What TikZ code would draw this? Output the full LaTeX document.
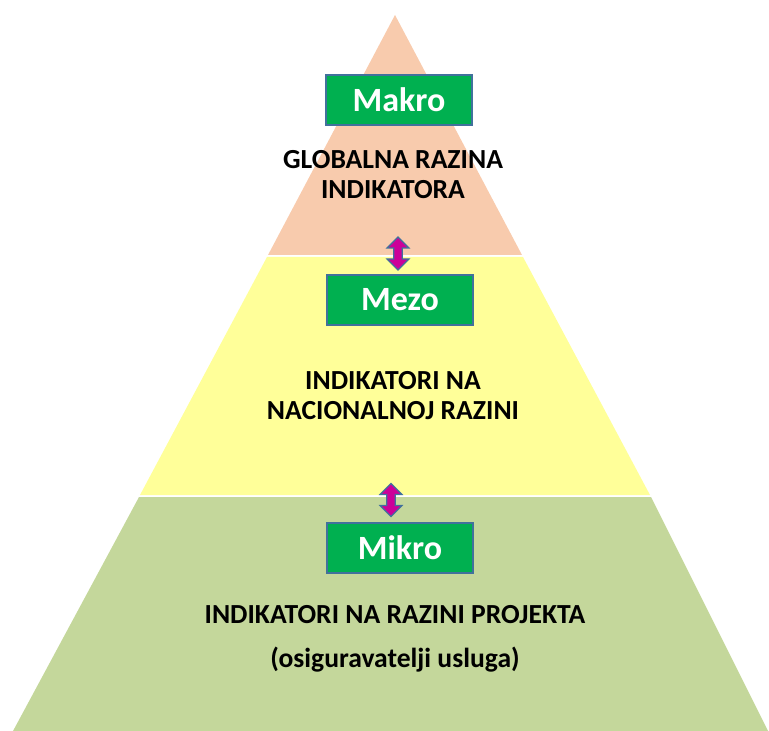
\documentclass[tikz,border=0pt]{standalone}
\usepackage{fontspec}
\setmainfont{Carlito}
\usetikzlibrary{shapes.arrows}
\definecolor{makrofill}{HTML}{F8CBAD}
\definecolor{mezofill}{HTML}{FFFF99}
\definecolor{mikrofill}{HTML}{C4D79B}
\definecolor{razinabox}{HTML}{00B050}
\definecolor{razinaline}{HTML}{41719C}
\definecolor{strelica}{HTML}{CC0099}
\begin{document}
\begin{tikzpicture}[x=0.5pt,y=-0.5pt,
  razina/.style={draw=razinaline,line width=1pt,fill=razinabox,text=white,
    font=\bfseries\fontsize{17}{19}\selectfont,minimum width=73pt,minimum height=25pt,inner sep=0pt},
  opis/.style={align=center,font=\bfseries\fontsize{13.8}{15}\selectfont},
  veza/.style={double arrow,draw=razinaline,fill=strelica,line width=0.6pt,rotate=90,
    minimum height=16.5pt,minimum width=10.5pt,double arrow head extend=3.4pt,inner sep=1.8pt}]
\useasboundingbox (0,0) rectangle (769,731);
% slojevi piramide
\fill[makrofill] (395,15) -- (522,255) -- (268,255) -- cycle;
\fill[mezofill] (267,257) -- (523,257) -- (650,495) -- (140,495) -- cycle;
\fill[mikrofill] (139,497) -- (651,497) -- (768,731) -- (13,731) -- cycle;
% razine
\node[razina] (makro) at (399,100) {Makro};
\node[opis] (globalna) at (393,175) {GLOBALNA RAZINA\\INDIKATORA};
\node[razina] (mezo) at (400,300) {Mezo};
\node[opis] (nacionalna) at (393,396) {INDIKATORI NA\\NACIONALNOJ RAZINI};
\node[razina] (mikro) at (400,548) {Mikro};
\node[opis] (projekt) at (395,639) {INDIKATORI NA RAZINI PROJEKTA\\[7pt](osiguravatelji usluga)};
% strelice
\node[veza] (veza1) at (398,253.5) {};
\node[veza] (veza2) at (391,500) {};
\end{tikzpicture}
\end{document}
